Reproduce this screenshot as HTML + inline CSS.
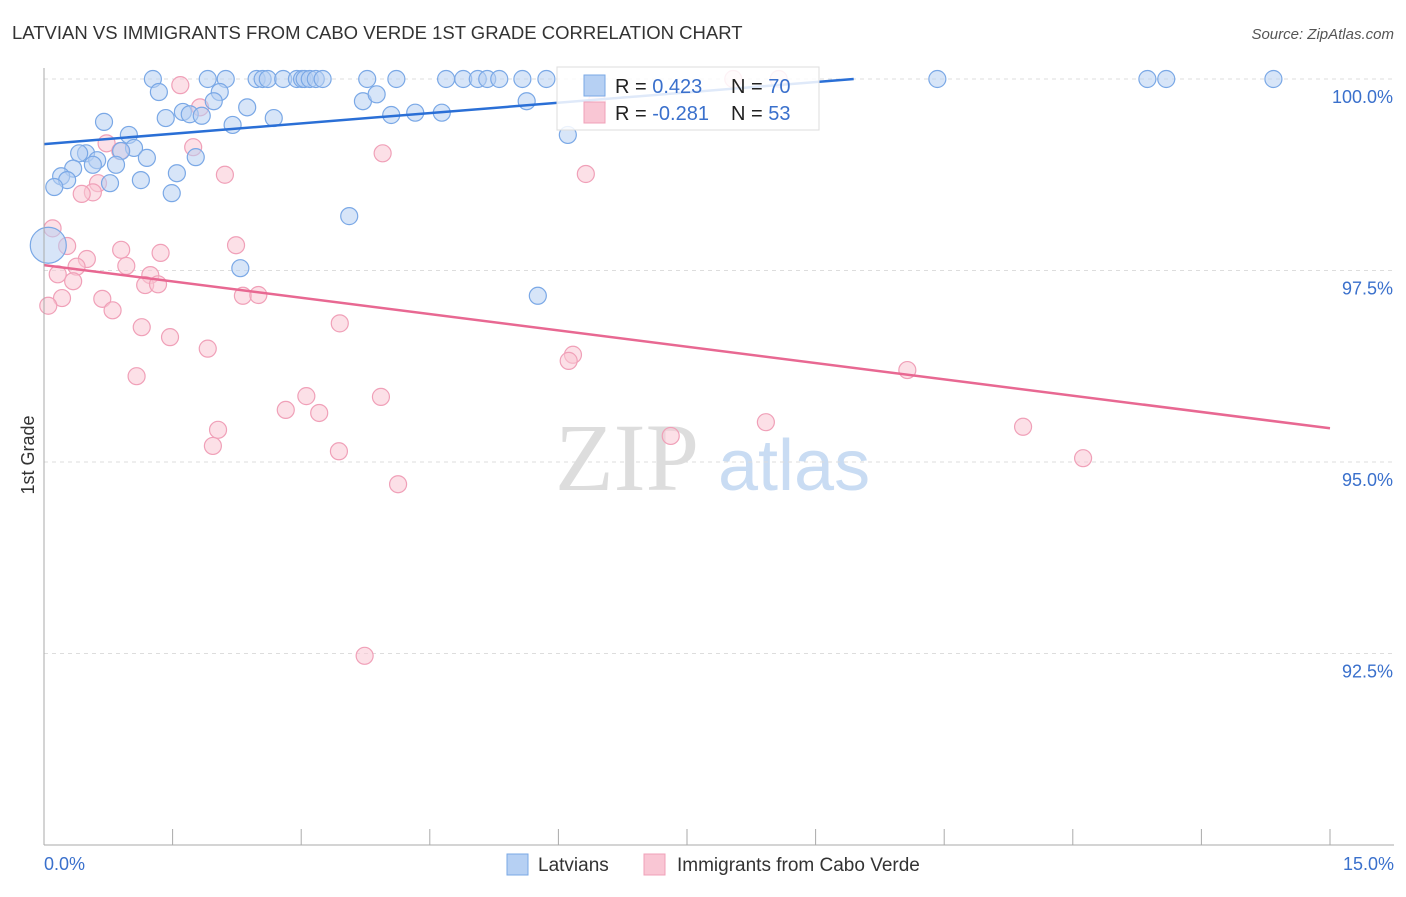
<!DOCTYPE html>
<html><head><meta charset="utf-8"><style>
body{margin:0;background:#fff;font-family:"Liberation Sans",sans-serif}
#wrap{position:relative;width:1406px;height:892px}
</style></head><body>
<div id="wrap">
<svg id="svg" width="1406" height="892" xmlns="http://www.w3.org/2000/svg">
<text x="12" y="39" font-size="18.5" fill="#333">LATVIAN VS IMMIGRANTS FROM CABO VERDE 1ST GRADE CORRELATION CHART</text>
<text x="1394" y="39" font-size="15" fill="#555" font-style="italic" text-anchor="end">Source: ZipAtlas.com</text>
<text x="34" y="455" font-size="18" fill="#333" text-anchor="middle" transform="rotate(-90 34 455)">1st Grade</text>
<g><text x="555" y="490" font-size="96" font-family="Liberation Serif,serif" fill="#ddd">ZIP</text><text x="718" y="490" font-size="72" fill="#c9dcf3">atlas</text></g>
<g id="grid"></g><g id="pts"></g><g id="lines"></g>
<line x1="44" y1="68" x2="44" y2="845" stroke="#aaa"/>
<line x1="44" y1="845" x2="1394" y2="845" stroke="#aaa"/>
<g id="xt"></g>
<g>
<rect x="557" y="67" width="262" height="63" fill="#fff" fill-opacity="0.85" stroke="#ddd"/>
<rect x="584" y="75" width="21" height="21" fill="#b6d0f3" stroke="#7aa8e6"/>
<rect x="584" y="102" width="21" height="21" fill="#f9c6d4" stroke="#f0a0b8"/>
<text x="615" y="93" font-size="20" fill="#222">R = <tspan fill="#3a70cc"> 0.423</tspan><tspan x="731">N = </tspan><tspan fill="#3a70cc">70</tspan></text>
<text x="615" y="120" font-size="20" fill="#222">R = <tspan fill="#3a70cc">-0.281</tspan><tspan x="731">N = </tspan><tspan fill="#3a70cc">53</tspan></text>
</g>
<g>
<rect x="507" y="854" width="21" height="21" fill="#b6d0f3" stroke="#7aa8e6"/>
<text x="538" y="871" font-size="19" fill="#333">Latvians</text>
<rect x="644" y="854" width="21" height="21" fill="#f9c6d4" stroke="#f0a0b8"/>
<text x="677" y="871" font-size="19" fill="#333">Immigrants from Cabo Verde</text>
</g>
<text x="44" y="870" font-size="18" fill="#3a70cc">0.0%</text>
<text x="1394" y="870" font-size="18" fill="#3a70cc" text-anchor="end">15.0%</text>
</svg></div>
<script>
const yTicks=[100,97.5,95,92.5];
const yTickLabels=["100.0%","97.5%","95.0%","92.5%"];
const blueX=[1.27,1.34,1.91,2.12,2.05,1.98,2.48,2.55,2.61,2.79,2.95,3.01,3.04,3.10,3.17,3.25,3.77,4.11,4.69,4.89,5.06,5.17,5.31,5.58,5.86,10.42,12.87,13.09,14.34,3.72,3.88,5.63,2.37,1.62,1.70,1.84,1.42,2.68,4.05,4.33,4.64,2.20,0.70,0.99,1.05,0.90,0.49,0.41,0.62,1.20,1.77,0.57,0.84,0.34,1.55,0.20,0.27,1.13,0.77,0.12,1.49,3.56,6.11,2.29,5.76,0.05];
const blueY=[100,99.83,100,100,99.83,99.71,100,100,100,100,100,100,100,100,100,100,100,100,100,100,100,100,100,100,100,100,100,100,100,99.71,99.80,99.71,99.63,99.57,99.54,99.52,99.49,99.49,99.53,99.56,99.56,99.40,99.44,99.27,99.10,99.06,99.03,99.03,98.94,98.97,98.98,98.88,98.88,98.83,98.77,98.73,98.68,98.68,98.64,98.59,98.51,98.21,99.27,97.53,97.17,97.83];
const pinkX=[1.59,1.82,0.73,0.89,1.74,3.95,2.11,6.32,0.63,0.57,0.44,0.10,0.27,2.24,0.90,1.36,0.50,0.96,0.38,1.24,0.16,0.34,1.18,1.33,0.21,0.68,0.05,0.80,2.32,2.50,3.45,1.14,1.47,1.91,6.17,6.12,1.08,10.07,3.06,3.93,2.82,3.21,8.42,11.42,2.03,7.31,1.97,3.44,12.12,4.13,3.74,8.04,8.57,6.45];
const pinkY=[99.92,99.63,99.16,99.06,99.11,99.03,98.75,98.76,98.64,98.52,98.50,98.05,97.82,97.83,97.77,97.73,97.65,97.56,97.55,97.44,97.45,97.36,97.31,97.32,97.14,97.13,97.04,96.98,97.17,97.18,96.81,96.76,96.63,96.48,96.40,96.32,96.12,96.20,95.86,95.85,95.68,95.64,95.52,95.46,95.42,95.34,95.21,95.14,95.05,94.71,92.47,100,100,99.71];
const blueTrend=[99.15,100.50];
const pinkTrend=[97.57,95.44];
const NS="http://www.w3.org/2000/svg";
const sx=v=>44+v*(1286/15), sy=v=>79+(100-v)*76.6;
function mk(t,a,p){const e=document.createElementNS(NS,t);for(const k in a)e.setAttribute(k,a[k]);p.appendChild(e);return e;}
const grid=document.getElementById('grid');
yTicks.forEach((t,i)=>{
 const l=mk('line',{x1:44,x2:1394,y1:sy(t),y2:sy(t),stroke:'#ddd','stroke-dasharray':'4,4'},grid);
 
 
 const tx=mk('text',{x:1393,y:sy(t)+24,'font-size':18,fill:'#3a70cc','text-anchor':'end'},grid);
 tx.textContent=yTickLabels[i];
 
 
});
const xt=document.getElementById('xt');
for(let i=0;i<=10;i++){const l=mk('line',{x1:sx(i*1.5),x2:sx(i*1.5),y1:829,y2:845,stroke:'#aaa'},xt);
 
 }
const pts=document.getElementById('pts');
pinkX.forEach((x,i)=>{const c=mk('circle',{cx:sx(x),cy:sy(pinkY[i]),r:8.5,fill:'#f9c6d4','fill-opacity':0.55,stroke:'#f0a0b8','stroke-width':1.2},pts);
 
 });
blueX.forEach((x,i)=>{const big=i===blueX.length-1;const c=mk('circle',{cx:sx(x),cy:sy(blueY[i]),r:big?18:8.5,fill:'#b6d0f3','fill-opacity':0.55,stroke:'#7aa8e6','stroke-width':1.2},pts);
 
 });
const lines=document.getElementById('lines');
const bx1=(100-blueTrend[0])/(blueTrend[1]-blueTrend[0])*15;
const bl=mk('line',{x1:sx(0),y1:sy(blueTrend[0]),x2:sx(Math.min(15,bx1)),y2:sy(Math.min(100,blueTrend[1])),stroke:'#2a6fd6','stroke-width':2.5},lines);


const pl=mk('line',{x1:sx(0),y1:sy(pinkTrend[0]),x2:sx(15),y2:sy(pinkTrend[1]),stroke:'#e86892','stroke-width':2.5},lines);


</script>
</body></html>
